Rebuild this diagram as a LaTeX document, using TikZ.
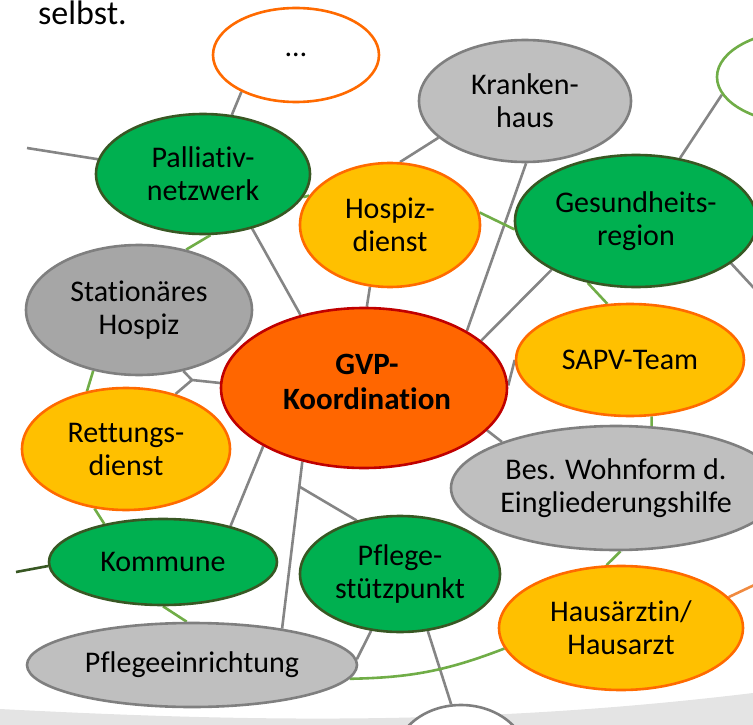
\documentclass[tikz,border=0pt]{standalone}
\usepackage{fontspec}
\setmainfont[RawFeature={-liga;-clig;-dlig;-calt}]{Carlito}
\usetikzlibrary{shapes.geometric,calc,backgrounds}
\definecolor{gfill}{HTML}{00B050}
\definecolor{gborder}{HTML}{385723}
\definecolor{yfill}{HTML}{FFC000}
\definecolor{oborder}{HTML}{FF6A00}
\definecolor{gvpfill}{HTML}{FF6600}
\definecolor{gvpborder}{HTML}{C00000}
\definecolor{grfill}{HTML}{BFBFBF}
\definecolor{grdark}{HTML}{A6A6A6}
\definecolor{grborder}{HTML}{7F7F7F}
\definecolor{lgreen}{HTML}{70AD47}
\definecolor{lgrey}{HTML}{858585}
\definecolor{lorange}{HTML}{F08A40}
\definecolor{bandgrey}{HTML}{E4E4E4}
\tikzset{
  base/.style={ellipse, line width=2.6pt, inner sep=0pt, align=center,
    font=\fontsize{30}{33}\selectfont, text=black},
  sz/.style 2 args={minimum width=#1pt, minimum height=#2pt},
  greenn/.style={base, fill=gfill, draw=gborder},
  yell/.style={base, fill=yfill, draw=oborder},
  greyn/.style={base, fill=grfill, draw=grborder},
  greyd/.style={base, fill=grdark, draw=grborder},
  gvpn/.style={base, fill=gvpfill, draw=gvpborder},
  gvptext/.style={inner sep=0pt, align=center, text=black,
    font=\bfseries\fontsize{31}{35}\selectfont},
  whiteo/.style={base, fill=white, draw=oborder},
  whiteg/.style={base, fill=white, draw=lgreen},
  whitegr/.style={base, fill=white, draw=grborder},
  gline/.style={draw=lgrey, line width=2.6pt},
  grline/.style={draw=lgreen, line width=2.6pt},
  dgline/.style={draw=gborder, line width=2.6pt},
  oline/.style={draw=lorange, line width=2.6pt},
}
\begin{document}
\begin{tikzpicture}[x=1pt,y=-1pt]
\useasboundingbox (0,0) rectangle (753,725);
\clip (0,0) rectangle (753,725);

\node[anchor=base west, inner sep=0pt, font=\fontsize{34}{38}\selectfont] (selbst) at (38,25) {selbst.};

\node[whiteo, sz={166}{94}] (dots) at (296,55) {…};
\node[greenn, sz={214}{120}] (pal) at (203,174) {Palliativ-\\netzwerk};
\node[greyn, sz={212}{122}] (kh) at (525,101) {Kranken-\\haus};
\node[whiteg, sz={176}{94}] (tr) at (805,77) {};
\node[yell, sz={180}{124}] (hos) at (390,225) {Hospiz-\\dienst};
\node[greenn, sz={242}{132}] (ges) at (636,221) {Gesundheits-\\region};
\node[greyd, sz={226}{130}] (sth) at (139,310) {Stationäres\\Hospiz};
\node[gvpn, sz={286}{160}] (gvp) at (364,388) {};
\node[gvptext] (gvpt) at (367,382) {GVP-\\Koordination};
\node[yell, sz={228}{112}] (sapv) at (630,360) {SAPV-Team};
\node[yell, sz={208}{122}] (ret) at (126,449) {Rettungs-\\dienst};
\node[greyn, sz={330}{124}] (bes) at (616,488) {Bes. Wohnform d.\\Eingliederungshilfe};
\node[greenn, sz={228}{86}] (kom) at (163,562) {Kommune};
\node[greenn, sz={200}{116}] (pst) at (400,574) {Pflege-\\stützpunkt};
\node[yell, sz={244}{124}] (hau) at (621,628) {Hausärztin/\\Hausarzt};
\node[greyn, sz={330}{84}] (pfl) at (192,665) {Pflegeeinrichtung};
\node[whitegr, sz={134}{110}] (bot) at (461,760) {};

\coordinate (palL) at (27,148);
\coordinate (gesR) at (765,300);
\coordinate (hauR) at (767,579);
\coordinate (komL) at (16,572);
\coordinate (j1) at (192,380);
\coordinate (j2) at ($(gvp.-130)!0.15!(pfl.22)$);

\begin{scope}[on background layer]
  \fill[bandgrey] (0,709) .. controls (250,722) and (480,726) .. (753,693)
    -- (753,725) -- (0,725) -- cycle;
  % grey connectors
  \draw[gline] (dots.-146) -- (pal.64);
  \draw[gline] (palL) -- (pal.172);
  \draw[gline] (pal.-48) -- (gvp.131);
  \draw[gline] (kh.-157) -- (hos.81);
  \draw[gline] (kh.-89) -- (gvp.29);
  \draw[gline] (ges.55) -- (tr.-168);
  \draw[gline] (ges.-24) -- (gesR);
  \draw[gline] (gvp.22) -- (ges.-150);
  \draw[gline] (hos.-108) -- (gvp.88);
  \draw[gline] (gvp.1) -- (sapv.180);
  \draw[gline] (gvp.-19) -- (bes.158);
  \draw[gline] (gvp.178) -- (j1) -- (sth.-54);
  \draw[gline] (j1) -- (ret.48);
  \draw[gline] (gvp.-150) -- (kom.28);
  \draw[gline] (gvp.-130) -- (pfl.22);
  \draw[gline] (j2) -- (pst.129);
  \draw[gline] (pst.-117) -- (pfl.2);
  \draw[gline] (pst.-64) -- (bot.100);
  % green ring
  \draw[grline] (pal.-13) -- (hos.160);
  \draw[grline] (hos.8) -- (ges.-176);
  \draw[grline] (ges.-128) -- (sapv.112);
  \draw[grline] (sapv.-69) -- (bes.60);
  \draw[grline] (bes.-86) -- (hau.103);
  \draw[grline] (pfl.-5) to[bend right=10] (hau.-170);
  \draw[grline] (kom.-90) -- (pfl.97);
  \draw[grline] (ret.-118) -- (kom.147);
  \draw[grline] (sth.-127) -- (ret.124);
  \draw[grline] (sth.52) -- (pal.-83);
  % other
  \draw[dgline] (komL) -- (kom.-178);
  \draw[oline] (hau.16) -- (hauR);
\end{scope}
\end{tikzpicture}
\end{document}
